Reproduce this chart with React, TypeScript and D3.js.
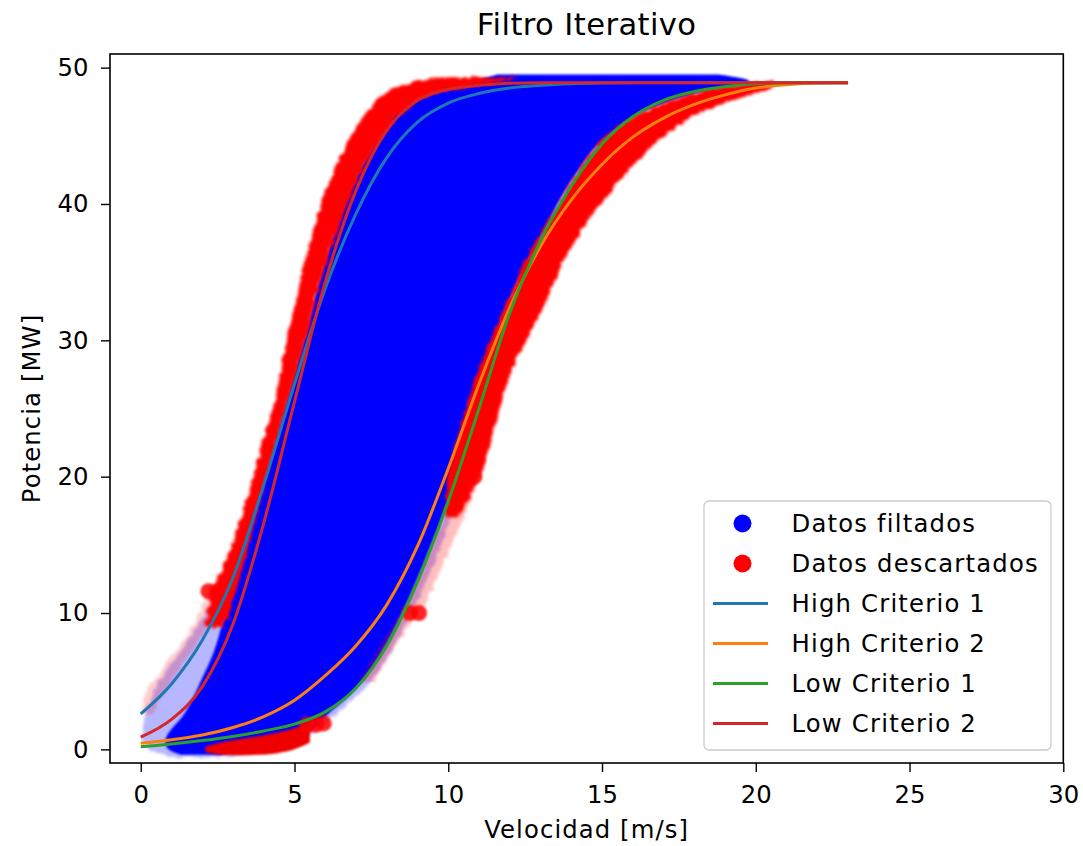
import React, { useEffect, useRef } from 'react';
import * as d3 from 'd3';

// curve samples (speed in m/s -> power in MW)
const curveSpeeds = [0, 1, 2, 3, 4, 5, 6, 7, 8, 9, 10, 11, 12, 13, 14, 15, 16, 17, 18, 19, 20, 21, 22, 23];
const highCriterio1 = [2.6, 4.8, 8.0, 12.6, 19.4, 26.8, 33.8, 39.3, 43.4, 46.0, 47.4, 48.1, 48.5, 48.7, 48.82, 48.88, 48.9, 48.9, 48.9, 48.9, 48.9, 48.9, 48.9, 48.9];
const highCriterio2 = [0.45, 0.7, 1.05, 1.6, 2.4, 3.6, 5.4, 7.6, 10.6, 14.9, 20.6, 26.8, 32.4, 36.9, 40.3, 42.9, 44.9, 46.3, 47.3, 48.0, 48.5, 48.75, 48.88, 48.9];
const lowCriterio1 = [0.2, 0.4, 0.65, 0.95, 1.35, 1.85, 2.75, 4.5, 7.6, 12.3, 18.2, 25.0, 32.0, 37.3, 41.3, 44.4, 46.4, 47.6, 48.25, 48.6, 48.82, 48.9, 48.9, 48.9];
const lowCriterio2 = [0.9, 2.2, 4.6, 9.2, 16.6, 25.5, 34.3, 41.0, 45.4, 47.6, 48.4, 48.7, 48.85, 48.9, 48.9, 48.9, 48.9, 48.9, 48.9, 48.9, 48.9, 48.9, 48.9, 48.9];

// filtered cloud envelope: power level -> left / right speed
const filteredPower = [-0.4, 0, 0.5, 1, 1.5, 2.4, 4, 5, 7, 10, 12, 15, 18, 22, 26, 30, 34, 38, 42, 45, 47, 48.3, 49, 49.5];
const filteredLeft = [1.3, 0.9, 0.8, 0.85, 1.0, 1.35, 1.75, 1.95, 2.35, 2.75, 3.05, 3.45, 3.8, 4.3, 4.8, 5.3, 5.75, 6.3, 7.0, 7.8, 8.5, 9.7, 10.8, 11.6];
const filteredRight = [2.6, 3.2, 4.2, 5.0, 5.6, 6.0, 6.8, 7.2, 7.8, 8.5, 8.9, 9.45, 9.95, 10.5, 10.95, 11.5, 12.2, 13.1, 14.1, 15.2, 16.6, 18.4, 19.8, 18.8];

// faint (sparse) part of the filtered cloud
const filteredFaintPower = [-0.6, 0, 1, 2.5, 5, 7.5, 10, 14, 20, 30];
const filteredFaintLeft = [1.0, 0.3, 0.05, 0.15, 0.6, 1.4, 2.1, 3.0, 3.9, 5.2];
const filteredFaintRight = [2.8, 3.6, 5.4, 6.3, 7.5, 8.2, 8.8, 9.6, 10.5, 11.7];

// discarded band on the left
const discardedLeftPower = [9, 11, 14, 18, 22, 26, 30, 34, 38, 42, 45, 47, 48.3, 48.9, 49.3];
const discardedLeftOuter = [2.1, 2.25, 2.8, 3.4, 3.9, 4.4, 4.75, 5.15, 5.6, 6.2, 6.85, 7.45, 8.1, 8.8, 9.8];
const discardedLeftInner = [2.7, 3.0, 3.4, 3.85, 4.35, 4.85, 5.35, 5.8, 6.4, 7.1, 7.9, 8.7, 9.9, 11.5, 12.3];

// discarded band on the right
const discardedRightPower = [17, 20, 24, 28, 32, 36, 40, 43, 45.5, 47, 48, 48.6, 49];
const discardedRightInner = [9.9, 10.0, 10.45, 11.0, 11.75, 12.55, 13.6, 14.4, 15.4, 16.6, 17.8, 19.0, 20.0];
const discardedRightOuter = [10.3, 11.0, 11.55, 12.1, 13.0, 13.8, 14.95, 16.1, 17.3, 18.5, 19.8, 20.5, 20.6];

// sparse discarded points at the lower edges
const faintLeftPower = [2.5, 4, 6, 8, 10, 12];
const faintLeftOuter = [0.0, 0.15, 0.75, 1.4, 1.9, 2.2];
const faintLeftInner = [0.4, 0.7, 1.3, 1.9, 2.4, 2.7];
const faintRightPower = [5, 8, 11, 14, 17, 20, 22];
const faintRightInner = [7.1, 7.9, 8.7, 9.3, 9.9, 10.3, 10.6];
const faintRightOuter = [7.6, 8.4, 9.3, 9.9, 10.5, 11.0, 11.3];

// discarded streak under the low curves
const bottomSpeed = [2.1, 2.6, 3.2, 3.8, 4.4, 5.0, 5.5];
const bottomLow = [-0.2, -0.4, -0.45, -0.4, -0.3, 0.0, 0.5];
const bottomHigh = [0.2, 0.5, 0.75, 0.95, 1.2, 1.55, 1.9];

// isolated discarded points
const blobSpeed = [2.2, 2.5, 2.8, 5.4, 5.7, 5.95, 8.75, 9.05, 10.3, 10.6, 10.85];
const blobPower = [11.6, 11.6, 11.6, 1.8, 1.8, 1.9, 10.0, 10.0, 20.0, 20.0, 20.0];

const xTicks = [0, 5, 10, 15, 20, 25, 30];
const yTicks = [0, 10, 20, 30, 40, 50];

const lineNames = ['High Criterio 1', 'High Criterio 2', 'Low Criterio 1', 'Low Criterio 2'];
const lineColors = ['#1f77b4', '#ff7f0e', '#2ca02c', '#d62728'];
const lineSeries = [highCriterio1, highCriterio2, lowCriterio1, lowCriterio2];

const FONT = '"DejaVu Sans", sans-serif';

const App = () => {
  const chartRef = useRef<HTMLDivElement>(null);

  useEffect(() => {
    const root = d3.select(chartRef.current);
    root.selectAll('*').remove();

    const width = 1083;
    const height = 846;
    const left = 110, right = 1063.3, top = 54, bottom = 763;

    const svg = root
      .append('svg')
      .attr('width', width)
      .attr('height', height)
      .style('position', 'absolute')
      .style('left', '0px')
      .style('top', '0px')
      .style('background', '#fff');

    const x = d3.scaleLinear().domain([-1, 30]).range([left, right]);
    const y = d3.scaleLinear().domain([-1, 51]).range([bottom, top]);

    const defs = svg.append('defs');
    defs.append('clipPath').attr('id', 'plotclip')
      .append('rect').attr('x', left).attr('y', top).attr('width', right - left).attr('height', bottom - top);

    const soft = defs.append('filter').attr('id', 'soft')
      .attr('x', '-10%').attr('y', '-10%').attr('width', '120%').attr('height', '120%');
    soft.append('feGaussianBlur').attr('stdDeviation', 1.2);

    // scatter-like ragged edge
    const rough = defs.append('filter').attr('id', 'rough')
      .attr('x', '-10%').attr('y', '-10%').attr('width', '120%').attr('height', '120%');
    rough.append('feTurbulence').attr('type', 'fractalNoise').attr('baseFrequency', 0.15)
      .attr('numOctaves', 2).attr('seed', 3).attr('result', 'noise');
    rough.append('feDisplacementMap').attr('in', 'SourceGraphic').attr('in2', 'noise')
      .attr('scale', 6).attr('xChannelSelector', 'R').attr('yChannelSelector', 'G').attr('result', 'disp');
    rough.append('feGaussianBlur').attr('in', 'disp').attr('stdDeviation', 1.6);

    const plot = svg.append('g').attr('clip-path', 'url(#plotclip)');

    // band between two speed edges, indexed by power level
    const band = (power: number[], a: number[], b: number[]) =>
      power.map((p, i) => ({ p, a: a[i], b: b[i] }));
    const bandArea = d3.area<{ p: number; a: number; b: number }>()
      .y((d) => y(d.p))
      .x0((d) => x(d.a))
      .x1((d) => x(d.b))
      .curve(d3.curveMonotoneY);

    // filtered data
    plot.append('path')
      .attr('d', bandArea(band(filteredFaintPower, filteredFaintLeft, filteredFaintRight)))
      .attr('fill', '#0000ff').attr('opacity', 0.28).attr('filter', 'url(#rough)');
    plot.append('path')
      .attr('d', bandArea(band(filteredPower, filteredLeft, filteredRight)))
      .attr('fill', '#0000ff').attr('filter', 'url(#soft)');

    // discarded data
    plot.append('path')
      .attr('d', bandArea(band(faintLeftPower, faintLeftOuter, faintLeftInner)))
      .attr('fill', '#ff0000').attr('opacity', 0.2).attr('filter', 'url(#rough)');
    plot.append('path')
      .attr('d', bandArea(band(faintRightPower, faintRightInner, faintRightOuter)))
      .attr('fill', '#ff0000').attr('opacity', 0.25).attr('filter', 'url(#rough)');
    plot.append('path')
      .attr('d', bandArea(band(discardedLeftPower, discardedLeftOuter, discardedLeftInner)))
      .attr('fill', '#ff0000').attr('filter', 'url(#rough)');
    plot.append('path')
      .attr('d', bandArea(band(discardedRightPower, discardedRightInner, discardedRightOuter)))
      .attr('fill', '#ff0000').attr('filter', 'url(#rough)');

    const streak = d3.area<number>()
      .x((d) => x(d))
      .y0((d, i) => y(bottomLow[i]))
      .y1((d, i) => y(bottomHigh[i]))
      .curve(d3.curveMonotoneX);
    plot.append('path')
      .attr('d', streak(bottomSpeed))
      .attr('fill', '#ee0000').attr('filter', 'url(#soft)');

    plot.selectAll('.blob')
      .data(blobSpeed)
      .enter()
      .append('circle')
      .attr('cx', (d) => x(d))
      .attr('cy', (d, i) => y(blobPower[i]))
      .attr('r', 8)
      .attr('fill', '#ff0000')
      .attr('opacity', 0.85)
      .attr('filter', 'url(#soft)');

    // criteria curves
    const line = d3.line<number>()
      .x((d, i) => x(curveSpeeds[i]))
      .y((d) => y(d))
      .curve(d3.curveMonotoneX);
    lineSeries.forEach((s, k) => {
      plot.append('path')
        .attr('d', line(s))
        .attr('fill', 'none')
        .attr('stroke', lineColors[k])
        .attr('stroke-width', 3);
    });

    // frame
    svg.append('rect')
      .attr('x', left).attr('y', top)
      .attr('width', right - left).attr('height', bottom - top)
      .attr('fill', 'none').attr('stroke', '#000').attr('stroke-width', 1.6);

    // axes
    const xAxis = svg.append('g')
      .attr('transform', `translate(0,${bottom})`)
      .call(d3.axisBottom(x).tickValues(xTicks).tickSize(9).tickPadding(13.5).tickSizeOuter(0));
    const yAxis = svg.append('g')
      .attr('transform', `translate(${left},0)`)
      .call(d3.axisLeft(y).tickValues(yTicks).tickSize(9).tickPadding(12.5).tickSizeOuter(0));
    [xAxis, yAxis].forEach((g) => {
      g.select('.domain').remove();
      g.attr('font-family', FONT).attr('font-size', 24.3);
      g.selectAll('line').attr('stroke', '#000').attr('stroke-width', 1.4);
      g.selectAll('text').attr('fill', '#000');
    });

    // titles
    svg.append('text')
      .attr('x', (left + right) / 2).attr('y', 35)
      .attr('text-anchor', 'middle')
      .attr('font-family', FONT).attr('font-size', 30.6)
      .attr('letter-spacing', 0.4)
      .text('Filtro Iterativo');
    svg.append('text')
      .attr('x', (left + right) / 2).attr('y', 838)
      .attr('text-anchor', 'middle')
      .attr('font-family', FONT).attr('font-size', 24.3)
      .attr('letter-spacing', 1.1)
      .text('Velocidad [m/s]');
    svg.append('text')
      .attr('transform', `translate(40,${(top + bottom) / 2}) rotate(-90)`)
      .attr('text-anchor', 'middle')
      .attr('font-family', FONT).attr('font-size', 24.3)
      .attr('letter-spacing', 1.1)
      .text('Potencia [MW]');

    // legend
    const legend = svg.append('g');
    legend.append('rect')
      .attr('x', 704).attr('y', 501)
      .attr('width', 347).attr('height', 249)
      .attr('rx', 5)
      .attr('fill', '#fff').attr('fill-opacity', 0.8)
      .attr('stroke', '#cccccc').attr('stroke-width', 1.3);

    const entries = [
      { name: 'Datos filtados', kind: 'dot', color: '#0000ff' },
      { name: 'Datos descartados', kind: 'dot', color: '#ff0000' },
      ...lineNames.map((n, k) => ({ name: n, kind: 'line', color: lineColors[k] })),
    ];
    const row = legend.selectAll('.entry')
      .data(entries)
      .enter()
      .append('g')
      .attr('transform', (d, i) => `translate(0,${523.5 + i * 40})`);
    row.filter((d) => d.kind === 'dot')
      .append('circle')
      .attr('cx', 742.5).attr('cy', 0).attr('r', 9)
      .attr('fill', (d) => d.color);
    row.filter((d) => d.kind === 'line')
      .append('line')
      .attr('x1', 713).attr('x2', 768)
      .attr('stroke', (d) => d.color).attr('stroke-width', 3);
    row.append('text')
      .attr('x', 791.5).attr('y', 8.8)
      .attr('font-family', FONT).attr('font-size', 24.3)
      .attr('letter-spacing', 1.2)
      .attr('fill', '#000')
      .text((d) => d.name);
  }, []);

  return <div ref={chartRef} id="filtro-chart"></div>;
};

export default App;
